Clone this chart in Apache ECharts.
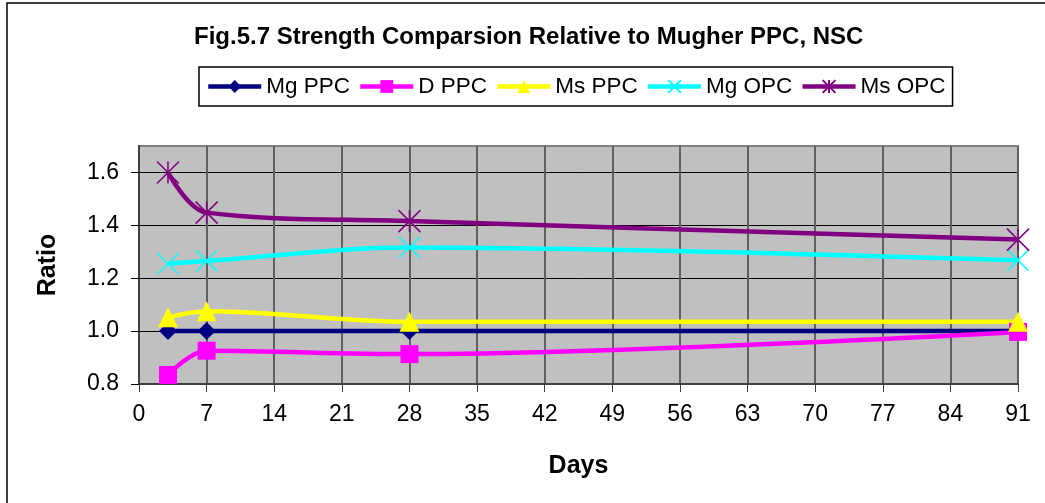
<!DOCTYPE html>
<html>
<head>
<meta charset="utf-8">
<script src="https://cdn.jsdelivr.net/npm/echarts@6/dist/echarts.min.js"></script>
<style>html,body{margin:0;padding:0;background:#fff}#c{width:1045px;height:503px}</style>
</head>
<body>
<div id="c"></div>
<script>
var days = [3, 7, 28, 91];
var mgPPC = [1.0, 1.0, 1.0, 1.0];
var dPPC = [0.834, 0.926, 0.913, 0.997];
var msPPC = [1.052, 1.075, 1.035, 1.035];
var mgOPC = [1.255, 1.265, 1.316, 1.268];
var msOPC = [1.600, 1.448, 1.416, 1.346];
var xTicks = [0, 7, 14, 21, 28, 35, 42, 49, 56, 63, 70, 77, 84, 91];
var yTicks = [0.8, 1.0, 1.2, 1.4, 1.6];

function pairs(v) { return days.map(function (d, i) { return [d, v[i]]; }); }
var FONT = 'Liberation Sans, Arial, sans-serif';
var crossPath = 'path://M0,0L10,10M10,0L0,10';
var starPath = 'path://M0,0L10,10M10,0L0,10M5,0L5,10';

function mk(name, data, color, symbol, size, stroked) {
  return {
    name: name, type: 'line', data: pairs(data), smooth: 0.35,
    symbol: symbol, symbolSize: size, showAllSymbol: true,
    lineStyle: { color: color, width: 4.5 },
    itemStyle: stroked ? { color: 'rgba(0,0,0,0)', borderColor: color, borderWidth: 1.5 } : { color: color, borderWidth: 0 },
    emphasis: { disabled: true },
    z: 3
  };
}

var chart = echarts.init(document.getElementById('c'), null, { renderer: 'canvas' });
chart.setOption({
  backgroundColor: '#ffffff',
  animation: false,
  graphic: [{
    type: 'rect', shape: { x: 7, y: 3, width: 1200, height: 700 },
    style: { fill: 'none', stroke: '#000', lineWidth: 1.5 }, silent: true, z: -10
  }],
  title: {
    text: 'Fig.5.7 Strength Comparsion Relative to Mugher PPC, NSC',
    left: 189, top: 20,
    textStyle: { fontFamily: FONT, fontWeight: 'bold', fontSize: 24, color: '#000' }
  },
  legend: {
    left: 199, top: 67,
    padding: [8, 7, 8, 7],
    borderColor: '#000', borderWidth: 1.5,
    itemWidth: 53, itemHeight: 16, itemGap: 8,
    lineStyle: { width: 4.5 },
    textStyle: { fontFamily: FONT, fontSize: 22.5, color: '#000' },
    data: ['Mg PPC', 'D PPC', 'Ms PPC', 'Mg OPC', 'Ms OPC']
  },
  grid: {
    left: 139, right: 27, top: 146, bottom: 119,
    show: true, backgroundColor: '#c0c0c0', borderColor: '#808080', borderWidth: 2
  },
  xAxis: {
    type: 'value', min: 0, max: 91, interval: 7,
    name: 'Days', nameLocation: 'middle', nameGap: 70,
    nameTextStyle: { fontFamily: FONT, fontWeight: 'bold', fontSize: 25, color: '#000' },
    axisLine: { show: true, onZero: false, lineStyle: { color: '#404040', width: 2 } },
    axisTick: { show: true, length: 8, lineStyle: { color: '#404040' } },
    axisLabel: { fontFamily: FONT, fontSize: 23, color: '#000', margin: 19,
      formatter: function (v) { return xTicks.indexOf(v) >= 0 ? String(v) : ''; } },
    splitLine: { show: true, lineStyle: { color: '#606060', width: 2 } }
  },
  yAxis: {
    type: 'value', min: 0.8, max: 1.7, interval: 0.2,
    name: 'Ratio', nameLocation: 'middle', nameGap: 78, nameRotate: 90,
    nameTextStyle: { fontFamily: FONT, fontWeight: 'bold', fontSize: 25, color: '#000' },
    axisLine: { show: true, lineStyle: { color: '#404040', width: 2 } },
    axisTick: { show: true, length: 8, lineStyle: { color: '#000' } },
    axisLabel: { fontFamily: FONT, fontSize: 23, color: '#000', margin: 20, showMaxLabel: false,
      formatter: function (v) {
        for (var i = 0; i < yTicks.length; i++) { if (Math.abs(yTicks[i] - v) < 1e-6) return yTicks[i].toFixed(1); }
        return '';
      } },
    splitLine: { show: true, lineStyle: { color: ['#000', '#000', '#000', '#000', '#000', '#808080'], width: 1 } }
  },
  series: [
    mk('Mg PPC', mgPPC, '#000080', 'diamond', [18, 18], false),
    mk('D PPC', dPPC, '#ff00ff', 'rect', 18, false),
    mk('Ms PPC', msPPC, '#ffff00', 'triangle', 20, false),
    mk('Mg OPC', mgOPC, '#00ffff', crossPath, 21, true),
    mk('Ms OPC', msOPC, '#800080', starPath, 22, true)
  ]
});
</script>
</body>
</html>
